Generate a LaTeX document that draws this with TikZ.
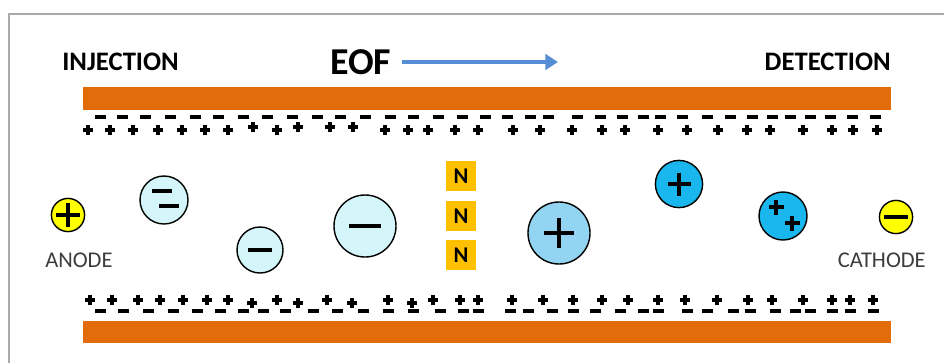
\documentclass[tikz,border=0pt]{standalone}
\usepackage{fontspec}
\setmainfont{Carlito}
\usepackage{xcolor}
\usetikzlibrary{arrows.meta}
\usetikzlibrary{positioning}

\definecolor{wallorange}{RGB}{227,108,10}
\definecolor{anionblue}{RGB}{212,246,250}
\definecolor{cationblue}{RGB}{146,212,242}
\definecolor{cationcyan}{RGB}{25,183,238}
\definecolor{electrodeyellow}{RGB}{255,255,0}
\definecolor{neutralgold}{RGB}{255,192,0}
\definecolor{flowblue}{RGB}{85,142,213}
\definecolor{framegray}{RGB}{170,170,170}
\definecolor{labelgray}{RGB}{60,60,60}

\tikzstyle{heading} = [font=\bfseries\fontsize{19}{21}\selectfont, inner sep=0pt]
\tikzstyle{bigheading} = [font=\bfseries\fontsize{27}{29}\selectfont, inner sep=0pt]
\tikzstyle{electrodelabel} = [font=\fontsize{16}{18}\selectfont, text=labelgray, inner sep=0pt]
\tikzstyle{ion} = [circle, draw=black, line width=1pt, inner sep=0pt]
\tikzstyle{anion} = [ion, fill=anionblue]
\tikzstyle{electrode} = [ion, fill=electrodeyellow, minimum size=0.83cm]
\tikzstyle{neutral} = [fill=neutralgold, minimum size=0.75cm, inner sep=0pt,
    font=\bfseries\fontsize{16}{18}\selectfont]
\tikzstyle{flowarrow} = [flowblue, line width=2.8pt, -{Triangle[length=9pt, width=11pt]}]

\tikzset{
    pics/wallplus/.style={code={\draw[line width=2.6pt] (-5,0) -- (5,0) (0,-5) -- (0,5);}},
    pics/wallminus/.style={code={\draw[line width=2.6pt] (-5.5,0) -- (5.5,0);}},
    pics/ionplus/.style={code={\draw[line width=2.3pt] (-#1,0) -- (#1,0) (0,-#1) -- (0,#1);}},
    pics/ionminus/.style={code={\draw[line width=2.3pt] (-#1,0) -- (#1,0);}},
}

\begin{document}
\begin{tikzpicture}[x=0.025cm, y=-0.025cm]
    \useasboundingbox (0,0) rectangle (944,363);
    \draw[framegray, line width=2.1pt] (9,363) |- (944,14);

    % capillary walls
    \fill[wallorange] (83,87) rectangle (891,110);
    \fill[wallorange] (83,321) rectangle (891,343);

    % charges along the upper wall
    \foreach \x in {100,122,145,170,195,218,243,267,292,317,340,365,390,413,438,462,485,
        507,530,548,577,600,622,643,660,682,707,730,752,772,790,810,830,852,875}
        \pic at (\x,117) {wallminus};
    \foreach \x in {88,110,133,158,182,205,228,277,385,408,428,455,478,513,540,572,602,
        625,658,687,718,747,770,803,832,853,877}
        \pic at (\x,130) {wallplus};
    \foreach \x in {253,298,330,353}
        \pic at (\x,127) {wallplus};

    % charges along the lower wall
    \foreach \x in {90,112,138,160,183,207,228,277,327,388,433,460,478,512,543,573,602,
        628,658,685,717,748,772,803,832,850,873}
        \pic at (\x,300) {wallplus};
    \foreach \x in {252,298,352,412}
        \pic at (\x,303) {wallplus};
    \foreach \x in {100,123,148,173,197,220,243,263,285,313,337,363,388,413,440,463,478,
        510,528,552,573,595,620,643,658,687,707,733,750,775,795,810,832,850,873}
        \pic at (\x,311) {wallminus};

    \node[heading, anchor=base west] (injection) at (62,70) {INJECTION};
    \node[heading, anchor=base east] (detection) at (891,70) {DETECTION};
    \node[bigheading, anchor=base west] (eof) at (330,74) {EOF};
    \coordinate (flowend) at (558,62);
    \draw[flowarrow] (eof.east |- flowend) ++(10,0) -- (flowend);

    % electrodes
    \node[electrode] (anode) at (68,215) {};
    \pic at (anode) {ionplus=12};
    \node[electrodelabel, anchor=base west] (anodetext) at (45,267) {ANODE};
    \node[electrode] (cathode) at (896,217) {};
    \pic at (cathode) {ionminus=12};
    \node[electrodelabel, anchor=base east] (cathodetext) at (926,267) {CATHODE};

    % anions
    \node[anion, minimum size=1.2cm] (dianion) at (164,200) {};
    \pic at (162,191) {ionminus=10};
    \pic at (169,206) {ionminus=10};
    \node[anion, minimum size=1.15cm] (anion) at (260,250) {};
    \pic at (anion) {ionminus=12};
    \node[anion, minimum size=1.55cm] (biganion) at (365,226) {};
    \pic at (biganion) {ionminus=16};

    % neutrals
    \node[neutral] (n1) at (461,176) {N};
    \node[neutral, below=6.5pt of n1] (n2) {N};
    \node[neutral, below=6.5pt of n2] (n3) {N};

    % cations
    \node[ion, fill=cationblue, minimum size=1.55cm] (bigcation) at (559,233) {};
    \pic at (bigcation) {ionplus=15};
    \node[ion, fill=cationcyan, minimum size=1.18cm] (cation) at (679,184) {};
    \pic at (cation) {ionplus=11.5};
    \node[ion, fill=cationcyan, minimum size=1.2cm] (dication) at (783,216) {};
    \pic at (776,207) {ionplus=7.5};
    \pic at (792,223) {ionplus=7.5};
\end{tikzpicture}
\end{document}
